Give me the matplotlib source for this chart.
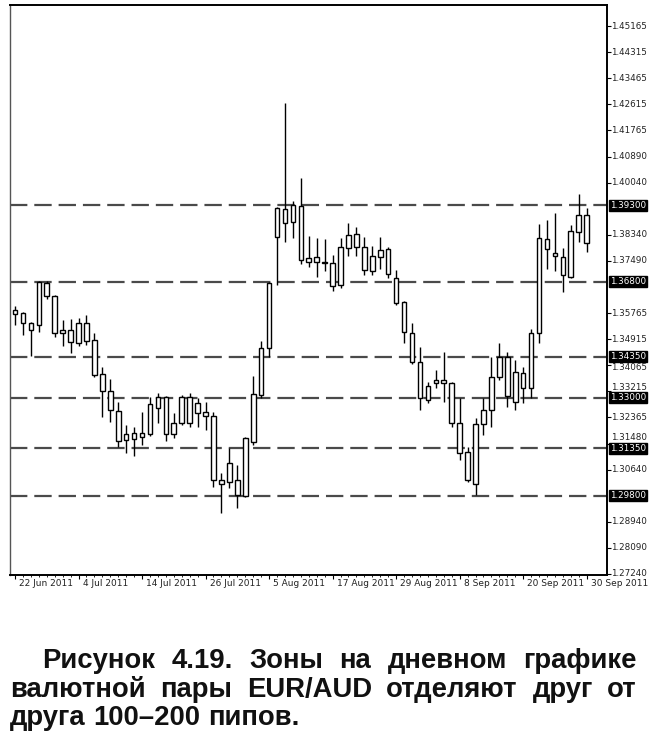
import matplotlib
matplotlib.use("Agg")
import matplotlib.pyplot as plt
from matplotlib.patches import Rectangle
import matplotlib.transforms as mtransforms

plt.rcParams['lines.scale_dashes'] = False

# ---------------- data (EUR/AUD daily, 22 Jun 2011 - 30 Sep 2011) ----------------
opens = [1.3588, 1.3578, 1.3545, 1.3539, 1.3676, 1.3634, 1.3513, 1.3523, 1.3480, 1.3545,
         1.3490, 1.3379, 1.3323, 1.3258, 1.3163, 1.3186, 1.3173, 1.3183, 1.3268, 1.3304,
         1.3183, 1.3219, 1.3304, 1.3251, 1.3255, 1.3241, 1.3032, 1.3023, 1.3032, 1.2980,
         1.3157, 1.3310, 1.3464, 1.3826, 1.3918, 1.3875, 1.3928, 1.3758, 1.3745, 1.3745,
         1.3741, 1.3670, 1.3790, 1.3836, 1.3794, 1.3715, 1.3761, 1.3787, 1.3692, 1.3614,
         1.3513, 1.3418, 1.3294, 1.3349, 1.3359, 1.3349, 1.3219, 1.3124, 1.3019, 1.3215,
         1.3261, 1.3369, 1.3434, 1.3287, 1.3382, 1.3333, 1.3513, 1.3820, 1.3774, 1.3761,
         1.3696, 1.3843, 1.3898]
highs = [1.3601, 1.3580, 1.3549, 1.3683, 1.3683, 1.3637, 1.3555, 1.3558, 1.3562, 1.3572,
         1.3513, 1.3402, 1.3362, 1.3287, 1.3212, 1.3206, 1.3255, 1.3304, 1.3317, 1.3307,
         1.3251, 1.3310, 1.3317, 1.3300, 1.3287, 1.3255, 1.3055, 1.3137, 1.3081, 1.3173,
         1.3372, 1.3487, 1.3678, 1.3925, 1.4264, 1.3944, 1.4019, 1.3830, 1.3823, 1.3820,
         1.3768, 1.3823, 1.3872, 1.3859, 1.3826, 1.3797, 1.3826, 1.3794, 1.3719, 1.3616,
         1.3545, 1.3467, 1.3353, 1.3392, 1.3451, 1.3353, 1.3300, 1.3140, 1.3235, 1.3300,
         1.3434, 1.3480, 1.3451, 1.3424, 1.3402, 1.3526, 1.3869, 1.3882, 1.3905, 1.3790,
         1.3866, 1.3967, 1.3921]
lows = [1.3539, 1.3506, 1.3438, 1.3516, 1.3624, 1.3500, 1.3470, 1.3447, 1.3470, 1.3474,
        1.3369, 1.3238, 1.3222, 1.3140, 1.3121, 1.3108, 1.3147, 1.3176, 1.3219, 1.3160,
        1.3170, 1.3212, 1.3206, 1.3206, 1.3196, 1.3009, 1.2924, 1.3006, 1.2938, 1.2974,
        1.3147, 1.3300, 1.3434, 1.3670, 1.3810, 1.3823, 1.3738, 1.3728, 1.3696, 1.3715,
        1.3650, 1.3660, 1.3764, 1.3764, 1.3702, 1.3702, 1.3722, 1.3692, 1.3604, 1.3480,
        1.3411, 1.3261, 1.3284, 1.3333, 1.3287, 1.3206, 1.3098, 1.3026, 1.2983, 1.3179,
        1.3206, 1.3359, 1.3271, 1.3261, 1.3284, 1.3300, 1.3480, 1.3722, 1.3715, 1.3647,
        1.3692, 1.3810, 1.3777]
closes = [1.3575, 1.3545, 1.3523, 1.3679, 1.3634, 1.3513, 1.3523, 1.3483, 1.3545, 1.3487,
          1.3375, 1.3323, 1.3261, 1.3160, 1.3183, 1.3166, 1.3186, 1.3281, 1.3304, 1.3183,
          1.3219, 1.3304, 1.3219, 1.3284, 1.3241, 1.3032, 1.3019, 1.3088, 1.2983, 1.3170,
          1.3313, 1.3464, 1.3676, 1.3921, 1.3872, 1.3931, 1.3751, 1.3745, 1.3761, 1.3741,
          1.3666, 1.3794, 1.3833, 1.3794, 1.3719, 1.3764, 1.3784, 1.3706, 1.3611, 1.3516,
          1.3418, 1.3300, 1.3340, 1.3359, 1.3349, 1.3219, 1.3121, 1.3032, 1.3215, 1.3261,
          1.3369, 1.3434, 1.3307, 1.3385, 1.3333, 1.3513, 1.3823, 1.3787, 1.3764, 1.3702,
          1.3846, 1.3898, 1.3807]

date_labels = ["22 Jun 2011", "4 Jul 2011", "14 Jul 2011", "26 Jul 2011", "5 Aug 2011",
               "17 Aug 2011", "29 Aug 2011", "8 Sep 2011", "20 Sep 2011", "30 Sep 2011"]
date_label_bars = [0, 8, 16, 24, 32, 40, 48, 56, 64, 72]

zone_levels = [1.39300, 1.36800, 1.34350, 1.33000, 1.31350, 1.29800]
zone_labels = ["1.39300", "1.36800", "1.34350", "1.33000", "1.31350", "1.29800"]

price_ticks = [1.27240, 1.28090, 1.28940, 1.30640, 1.31480, 1.32365, 1.33215, 1.34065,
               1.34915, 1.35765, 1.37490, 1.38340, 1.40040, 1.40890, 1.41765, 1.42615,
               1.43465, 1.44315, 1.45165]
price_tick_labels = ["1.27240", "1.28090", "1.28940", "1.30640", "1.31480", "1.32365",
                     "1.33215", "1.34065", "1.34915", "1.35765", "1.37490", "1.38340",
                     "1.40040", "1.40890", "1.41765", "1.42615", "1.43465", "1.44315",
                     "1.45165"]

caption_lines = [
    "Рисунок 4.19. Зоны на дневном графике",
    "валютной пары EUR/AUD отделяют друг от",
    "друга 100–200 пипов.",
]

# ---------------- figure ----------------
W, H = 650, 755
fig = plt.figure(figsize=(W / 100, H / 100), dpi=100)
fig.patch.set_facecolor("white")

ax_l, ax_r, ax_t, ax_b = 10, 607, 5, 575
ax = fig.add_axes([ax_l / W, 1 - ax_b / H, (ax_r - ax_l) / W, (ax_b - ax_t) / H])
ax.set_xlim(-0.63, 74.56)
ax.set_ylim(1.2720, 1.4586)

# zone lines
for lvl in zone_levels:
    ax.axhline(lvl, color="#4a4a4a", lw=1.6, dashes=(12.5, 5), zorder=1)

# candles
body_w = 0.58
for i, (o, h, l, c) in enumerate(zip(opens, highs, lows, closes)):
    ax.plot([i, i], [l, h], color="black", lw=1.0, zorder=2, solid_capstyle="butt")
    lo, hi = min(o, c), max(o, c)
    ax.add_patch(Rectangle((i - body_w / 2, lo), body_w, max(hi - lo, 0.00012),
                           facecolor="white", edgecolor="black", lw=1.0, zorder=3))

# spines
for s in ["top", "right", "bottom"]:
    ax.spines[s].set_color("black")
    ax.spines[s].set_linewidth(1.4)
ax.spines["left"].set_color("#555555")
ax.spines["left"].set_linewidth(1.0)

# y axis on right: tick marks from the axis, labels drawn as texts
ax.yaxis.tick_right()
ax.set_yticks(price_ticks)
ax.set_yticklabels([])
ax.tick_params(axis="y", direction="out", length=3, width=0.8)
y0, y1 = ax.get_ylim()
px_per_unit = (ax_b - ax_t) / (y1 - y0)
min_sep_px = 10.5
for val, lab in zip(price_ticks, price_tick_labels):
    nearest = min(zone_levels, key=lambda z: abs(val - z))
    sep = abs(val - nearest) * px_per_unit
    dy = 0
    if sep < min_sep_px:
        dy = (min_sep_px - sep) * (1 if val > nearest else -1)
    tr = mtransforms.offset_copy(ax.get_yaxis_transform(), fig=fig, x=4, y=dy, units="dots")
    ax.text(1.0, val, lab, transform=tr, ha="left", va="center", fontsize=6.3,
            color="#222222", family="DejaVu Sans", clip_on=False)

# x axis
ax.set_xticks(date_label_bars)
ax.set_xticklabels([])
ax.set_xticks(range(len(opens)), minor=True)
ax.tick_params(axis="x", which="major", direction="out", length=3, width=0.8)
ax.tick_params(axis="x", which="minor", direction="out", length=1.2, width=0.6)
xoff = mtransforms.offset_copy(ax.get_xaxis_transform(), fig=fig, x=4, y=-4, units="dots")
for b, lab in zip(date_label_bars, date_labels):
    ax.text(b, 0, lab, transform=xoff, ha="left", va="top", fontsize=6.5,
            color="#222222", family="DejaVu Sans")

# boxed level labels
yoff = mtransforms.offset_copy(ax.get_yaxis_transform(), fig=fig, x=3, y=0, units="dots")
for lvl, lab in zip(zone_levels, zone_labels):
    ax.text(1.0, lvl, lab, transform=yoff, ha="left", va="center", fontsize=6.3,
            color="white", family="DejaVu Sans", clip_on=False, zorder=10,
            bbox=dict(boxstyle="square,pad=0.1", facecolor="black", edgecolor="black"))

# ---------------- caption (justified) ----------------
renderer = fig.canvas.get_renderer()
cap_font = dict(fontsize=19.8, fontweight="bold", family="Liberation Sans", color="#111111")
line_specs = [(668, 42, 637, True), (697, 10, 637, True), (725, 10, 637, False)]
for text_line, (yb, x0, x1, just) in zip(caption_lines, line_specs):
    words = text_line.split(" ")
    objs = [fig.text(0, 1 - yb / H, w, ha="left", va="baseline", **cap_font) for w in words]
    widths = [o.get_window_extent(renderer).width for o in objs]
    if just:
        gap = (x1 - x0 - sum(widths)) / (len(words) - 1)
    else:
        sp = fig.text(0, 0, "a a", **cap_font)
        sp2 = fig.text(0, 0, "aa", **cap_font)
        gap = sp.get_window_extent(renderer).width - sp2.get_window_extent(renderer).width
        sp.remove(); sp2.remove()
    x = x0
    for o, w in zip(objs, widths):
        o.set_x(x / W)
        x += w + gap

fig.savefig("out.png", dpi=100, facecolor="white")
